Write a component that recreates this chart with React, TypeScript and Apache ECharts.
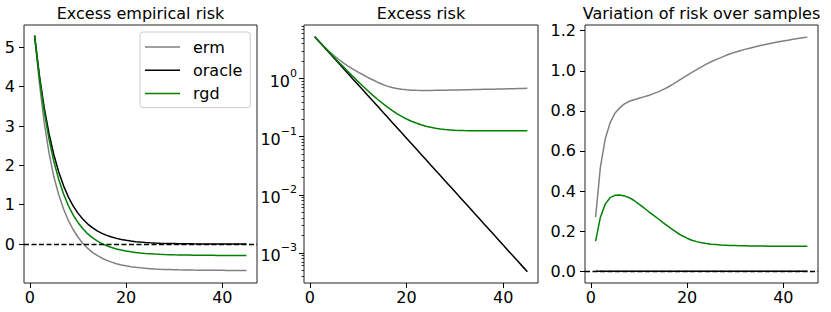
import React, { useEffect, useRef } from 'react';
import * as echarts from 'echarts';

const steps = [1, 2, 3, 4, 5, 6, 7, 8, 9, 10, 11, 12, 13, 14, 15, 16, 17, 18, 19, 20, 21, 22, 23, 24, 25, 26, 27, 28, 29, 30, 31, 32, 33, 34, 35, 36, 37, 38, 39, 40, 41, 42, 43, 44, 45];

const titles = ['Excess empirical risk', 'Excess risk', 'Variation of risk over samples'];
const seriesNames = ['erm', 'oracle', 'rgd'];
const seriesColors = ['#808080', '#000000', '#008000'];

// Panel 1: excess empirical risk
const empErm = [5.30, 4.09, 3.09, 2.31, 1.71, 1.26, 0.90, 0.60, 0.37, 0.18, 0.02, -0.105, -0.21, -0.29, -0.36, -0.415, -0.46, -0.50, -0.53, -0.554, -0.574, -0.59, -0.604, -0.616, -0.625, -0.634, -0.64, -0.645, -0.649, -0.653, -0.656, -0.658, -0.660, -0.662, -0.663, -0.664, -0.665, -0.666, -0.667, -0.668, -0.669, -0.669, -0.670, -0.670, -0.671];
const empOracle = [5.30, 4.288, 3.469, 2.806, 2.270, 1.837, 1.486, 1.202, 0.9725, 0.7867, 0.6365, 0.5149, 0.4165, 0.3370, 0.2726, 0.2206, 0.1784, 0.1443, 0.1168, 0.0945, 0.0764, 0.0618, 0.0500, 0.0405, 0.0327, 0.0265, 0.0214, 0.0173, 0.0140, 0.01134, 0.00918, 0.00742, 0.00601, 0.00486, 0.00393, 0.00318, 0.00257, 0.00208, 0.00168, 0.00136, 0.00110, 0.000892, 0.000721, 0.000584, 0.000472];
const empRgd = [5.30, 4.24, 3.37, 2.67, 2.10, 1.65, 1.28, 0.98, 0.74, 0.55, 0.395, 0.265, 0.162, 0.079, 0.012, -0.043, -0.088, -0.124, -0.153, -0.178, -0.198, -0.214, -0.227, -0.238, -0.246, -0.254, -0.26, -0.265, -0.269, -0.273, -0.276, -0.279, -0.281, -0.283, -0.284, -0.285, -0.286, -0.287, -0.288, -0.288, -0.289, -0.289, -0.29, -0.29, -0.29];

// Panel 2: excess risk (log scale)
const riskErm = [5.30, 4.32, 3.55, 2.95, 2.49, 2.14, 1.86, 1.63, 1.45, 1.30, 1.17, 1.05, 0.96, 0.87, 0.80, 0.745, 0.705, 0.675, 0.655, 0.642, 0.634, 0.629, 0.627, 0.627, 0.628, 0.630, 0.632, 0.634, 0.636, 0.638, 0.641, 0.644, 0.646, 0.649, 0.652, 0.655, 0.658, 0.660, 0.663, 0.666, 0.669, 0.672, 0.675, 0.678, 0.681];
const riskOracle = [5.30, 4.288, 3.469, 2.806, 2.270, 1.837, 1.486, 1.202, 0.9725, 0.7867, 0.6365, 0.5149, 0.4165, 0.3370, 0.2726, 0.2206, 0.1784, 0.1443, 0.1168, 0.0945, 0.0764, 0.0618, 0.0500, 0.0405, 0.0327, 0.0265, 0.0214, 0.0173, 0.0140, 0.01134, 0.00918, 0.00742, 0.00601, 0.00486, 0.00393, 0.00318, 0.00257, 0.00208, 0.00168, 0.00136, 0.00110, 0.000892, 0.000721, 0.000584, 0.000472];
const riskRgd = [5.30, 4.30, 3.50, 2.86, 2.34, 1.92, 1.58, 1.30, 1.08, 0.89, 0.74, 0.62, 0.52, 0.442, 0.378, 0.326, 0.284, 0.250, 0.224, 0.202, 0.185, 0.172, 0.161, 0.152, 0.146, 0.140, 0.136, 0.133, 0.131, 0.129, 0.128, 0.1274, 0.127, 0.1268, 0.1266, 0.1265, 0.1265, 0.1264, 0.1264, 0.1264, 0.1264, 0.1264, 0.1264, 0.1264, 0.1264];

// Panel 3: variation of risk over samples
const varErm = [0.27, 0.52, 0.66, 0.74, 0.788, 0.815, 0.835, 0.848, 0.856, 0.863, 0.870, 0.877, 0.886, 0.895, 0.906, 0.918, 0.932, 0.947, 0.962, 0.977, 0.992, 1.006, 1.020, 1.033, 1.045, 1.056, 1.066, 1.076, 1.085, 1.093, 1.100, 1.107, 1.113, 1.119, 1.125, 1.130, 1.135, 1.140, 1.145, 1.149, 1.153, 1.157, 1.161, 1.165, 1.168];
const varOracle = [0, 0, 0, 0, 0, 0, 0, 0, 0, 0, 0, 0, 0, 0, 0, 0, 0, 0, 0, 0, 0, 0, 0, 0, 0, 0, 0, 0, 0, 0, 0, 0, 0, 0, 0, 0, 0, 0, 0, 0, 0, 0, 0, 0, 0];
const varRgd = [0.15, 0.27, 0.335, 0.367, 0.379, 0.381, 0.376, 0.367, 0.353, 0.335, 0.317, 0.298, 0.280, 0.262, 0.243, 0.225, 0.208, 0.191, 0.177, 0.165, 0.155, 0.148, 0.142, 0.138, 0.135, 0.133, 0.131, 0.130, 0.129, 0.128, 0.127, 0.127, 0.126, 0.126, 0.126, 0.126, 0.125, 0.125, 0.125, 0.125, 0.125, 0.125, 0.125, 0.125, 0.125];

const xTicks = [0, 20, 40];
const empTicks = [0, 1, 2, 3, 4, 5];
const riskTicks = [0.001, 0.01, 0.1, 1];
const riskMinorTicks = [0.0004, 0.0005, 0.0006, 0.0007, 0.0008, 0.0009, 0.002, 0.003, 0.004, 0.005, 0.006, 0.007, 0.008, 0.009, 0.02, 0.03, 0.04, 0.05, 0.06, 0.07, 0.08, 0.09, 0.2, 0.3, 0.4, 0.5, 0.6, 0.7, 0.8, 0.9, 2, 3, 4, 5, 6, 7, 8];
const varTicks = [0, 0.2, 0.4, 0.6, 0.8, 1.0, 1.2];
const zeroLine = [0];

const FONT = 'DejaVu Sans';

export default function App() {
  const ref = useRef<HTMLDivElement>(null);
  useEffect(() => {
    document.body.style.margin = '0';
    const chart = echarts.init(ref.current!, null, { renderer: 'svg' });

    const grids = [
      { left: 24, top: 25, width: 233, height: 258 },
      { left: 304, top: 25, width: 234, height: 258 },
      { left: 585, top: 25, width: 233, height: 258 },
    ];

    const labelStyle = { fontSize: 16, color: '#000', fontFamily: FONT };
    const tickStyle = { color: '#000', width: 1 };

    const xAxes = grids.map((_, i) => ({
      gridIndex: i,
      type: 'value',
      min: -1.2,
      max: 47.2,
      axisLine: { show: false, onZero: false },
      axisTick: { show: true, length: 5, lineStyle: tickStyle, customValues: xTicks },
      axisLabel: { ...labelStyle, margin: 6, customValues: xTicks },
      splitLine: { show: false },
    }));

    const yAxes: any[] = [
      {
        gridIndex: 0,
        type: 'value',
        min: -0.99,
        max: 5.57,
        axisLine: { show: false, onZero: false },
        axisTick: { show: true, length: 5, lineStyle: tickStyle, customValues: empTicks },
        axisLabel: { ...labelStyle, margin: 9, customValues: empTicks },
        splitLine: { show: false },
      },
      {
        gridIndex: 1,
        type: 'log',
        logBase: 10,
        min: 3.02e-4,
        max: 8.41,
        axisLine: { show: false, onZero: false },
        axisTick: { show: true, length: 5, lineStyle: tickStyle, customValues: riskTicks },
        axisLabel: {
          margin: 7,
          customValues: riskTicks,
          formatter: (v: number) => {
            const e = Math.round(Math.log10(v));
            const s = e < 0 ? '\u2212' + String(-e) : String(e);
            return '{b|10}{s|' + s + '}';
          },
          rich: {
            b: { fontSize: 16, lineHeight: 22, verticalAlign: 'bottom', color: '#000', fontFamily: FONT },
            s: { fontSize: 11, lineHeight: 12, verticalAlign: 'top', color: '#000', fontFamily: FONT },
          },
        },
        splitLine: { show: false },
      },
      {
        gridIndex: 2,
        type: 'value',
        min: -0.0585,
        max: 1.2285,
        axisLine: { show: false, onZero: false },
        axisTick: { show: true, length: 5, lineStyle: tickStyle, customValues: varTicks },
        axisLabel: {
          ...labelStyle,
          margin: 9,
          customValues: varTicks,
          formatter: (v: number) => v.toFixed(1),
        },
        splitLine: { show: false },
      },
      {
        gridIndex: 1,
        type: 'log',
        logBase: 10,
        position: 'left',
        min: 3.02e-4,
        max: 8.41,
        axisLine: { show: false, onZero: false },
        axisTick: { show: true, length: 2.5, lineStyle: { color: '#000', width: 0.8 }, customValues: riskMinorTicks },
        axisLabel: { show: false },
        splitLine: { show: false },
      },
    ];

    const panels = [
      [empErm, empOracle, empRgd],
      [riskErm, riskOracle, riskRgd],
      [varErm, varOracle, varRgd],
    ];

    const series: any[] = [];
    panels.forEach((vals, p) => {
      vals.forEach((arr, s) => {
        const item: any = {
          type: 'line',
          name: seriesNames[s],
          xAxisIndex: p,
          yAxisIndex: p,
          data: steps.map((x, k) => [x, arr[k]]),
          showSymbol: false,
          symbol: 'none',
          lineStyle: { color: seriesColors[s], width: 1.5 },
          itemStyle: { color: seriesColors[s] },
          z: 2 + s,
        };
        if (s === 1 && p !== 1) {
          item.markLine = {
            silent: true,
            symbol: ['none', 'none'],
            label: { show: false },
            lineStyle: { color: '#000', type: [5, 2.5], width: 1.4 },
            data: zeroLine.map((v) => ({ yAxis: v })),
            z: 6,
          };
        }
        series.push(item);
      });
    });

    const centers = grids.map((g) => g.left + g.width / 2);

    chart.setOption({
      animation: false,
      backgroundColor: '#ffffff',
      title: titles.map((t, i) => ({
        text: t,
        left: centers[i],
        top: 5.5,
        padding: 0,
        textAlign: 'center',
        textStyle: { fontSize: 16, fontWeight: 'normal', color: '#000', fontFamily: FONT },
      })),
      legend: {
        data: seriesNames,
        orient: 'vertical',
        left: 140,
        top: 32,
        padding: [7, 8, 6, 5],
        itemGap: 7.3,
        itemWidth: 35,
        itemHeight: 1.5,
        icon: 'rect',
        backgroundColor: 'rgba(255,255,255,0.8)',
        borderColor: '#cccccc',
        borderWidth: 1,
        borderRadius: 3,
        textStyle: { fontSize: 16, lineHeight: 16, color: '#000', fontFamily: FONT, padding: [0, 0, 0, 8] },
        selectedMode: false,
      },
      grid: grids.map((g) => ({
        ...g,
        show: true,
        borderColor: '#222',
        borderWidth: 1,
        backgroundColor: 'transparent',
        containLabel: false,
        outerBoundsMode: 'none',
      })),
      xAxis: xAxes,
      yAxis: yAxes,
      series,
    });

    return () => chart.dispose();
  }, []);

  return <div ref={ref} style={{ width: 831, height: 312 }} />;
}
